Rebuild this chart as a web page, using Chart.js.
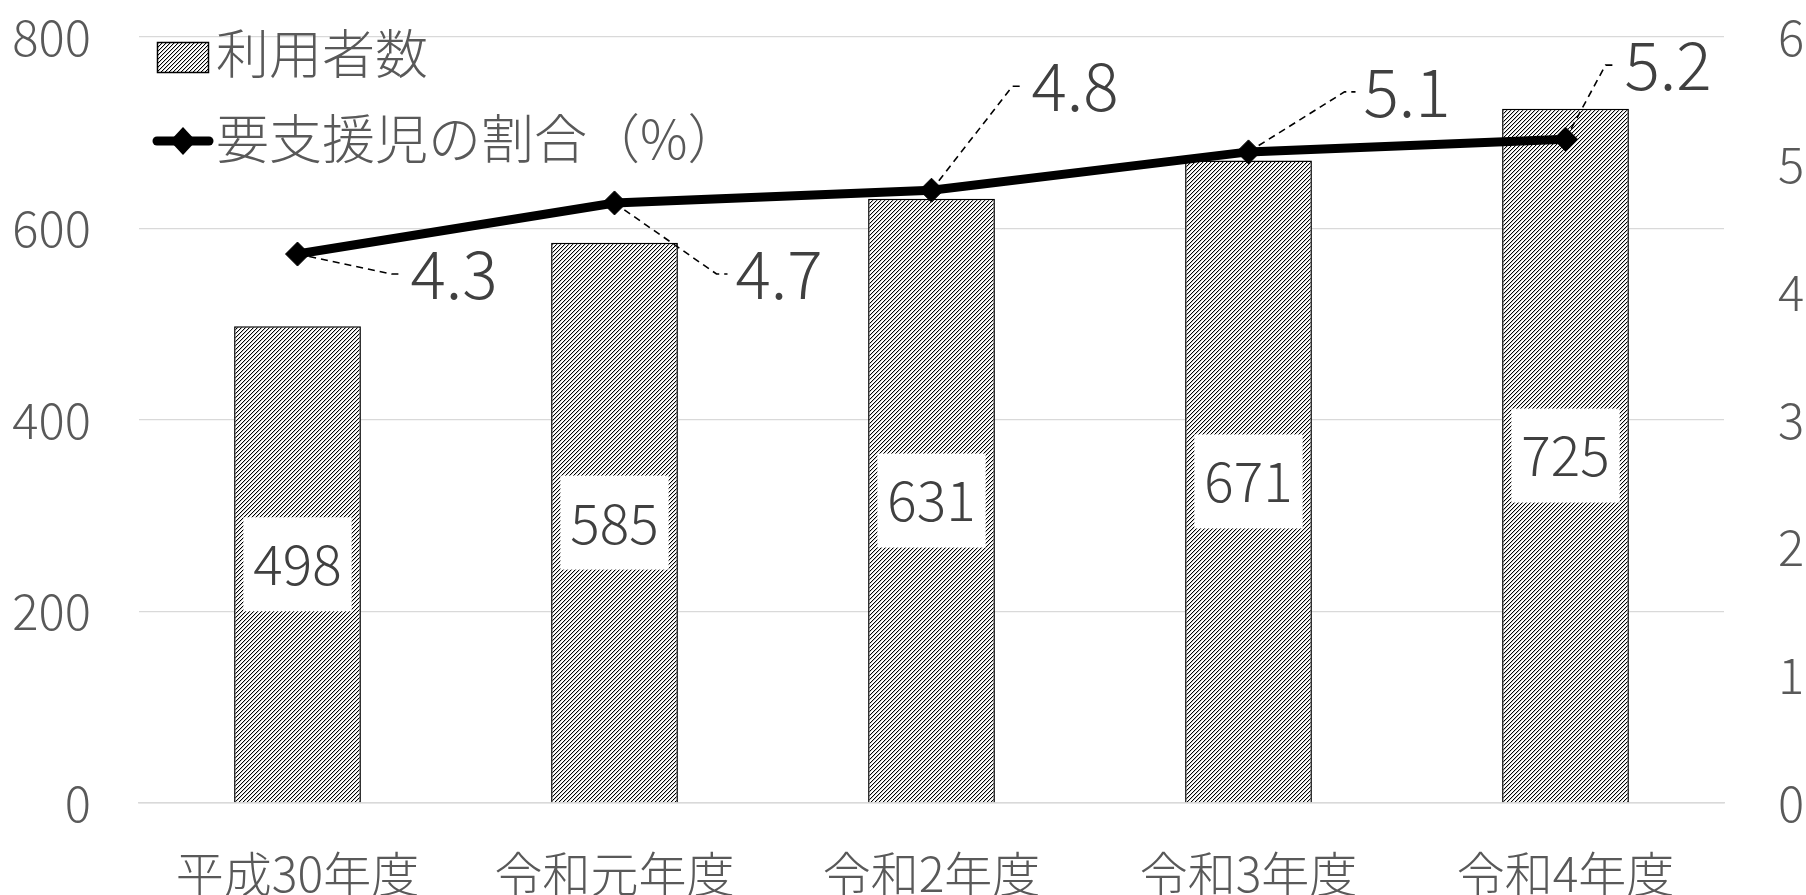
<!DOCTYPE html>
<html><head><meta charset="utf-8">
<script src="https://cdn.jsdelivr.net/npm/chart.js@4"></script>
<style>
html,body{margin:0;padding:0;background:#fff;overflow:hidden}
#wrap{width:1806px;height:895px;overflow:hidden;position:relative;background:#fff}
canvas{display:block}
</style></head><body>
<div id="wrap"><canvas id="c" width="1806" height="912"></canvas></div>
<script>
// ---- data ----
const categories = ['平成30年度','令和元年度','令和2年度','令和3年度','令和4年度'];
const users = [498, 585, 631, 671, 725];
const ratio = [4.3, 4.7, 4.8, 5.1, 5.2];
const leftTicks = [0, 200, 400, 600, 800];
const rightTicks = [0, 1, 2, 3, 4, 5, 6];
const seriesNames = ['利用者数', '要支援児の割合（%）'];

// ---- styling / placement (not data) ----
const FONT = '"Noto Sans CJK JP", "Noto Sans", sans-serif';
const TICK_COLOR = '#595959';
const LABEL_COLOR = '#404040';
const lineLabelOffsets = [[113,20],[121,71],[100,-104],[115,-60],[59,-74]];

const canvas = document.getElementById('c');
const ctx0 = canvas.getContext('2d');
function makeHatch(ctx){
  const p = document.createElement('canvas'); p.width = 4; p.height = 4;
  const g = p.getContext('2d');
  g.fillStyle = '#fff'; g.fillRect(0,0,4,4);
  for (let y=0;y<4;y++) for (let x=0;x<4;x++){
    const k = (x+y)%4;
    if (k===0){ g.fillStyle='#000'; g.fillRect(x,y,1,1); }
    else if (k===1){ g.fillStyle='#c8c8c8'; g.fillRect(x,y,1,1); }
  }
  return ctx.createPattern(p,'repeat');
}
const hatch = makeHatch(ctx0);

const labelPlugin = {
  id: 'labelPlugin',
  afterDatasetsDraw(chart){
    const ctx = chart.ctx;
    const barMeta = chart.getDatasetMeta(1);
    ctx.save();
    ctx.font = '300 55px ' + FONT;
    ctx.textAlign = 'center'; ctx.textBaseline = 'middle';
    barMeta.data.forEach((el, i) => {
      const txt = String(users[i]);
      const w = ctx.measureText(txt).width + 20;
      const h = 94;
      const cy = (el.y + el.base) / 2;
      ctx.fillStyle = '#fff';
      ctx.fillRect(el.x - w/2, cy - h/2, w, h);
      ctx.fillStyle = LABEL_COLOR;
      ctx.fillText(txt, el.x, cy);
    });
    const lineMeta = chart.getDatasetMeta(0);
    ctx.font = '300 66px ' + FONT;
    ctx.textAlign = 'left'; ctx.textBaseline = 'middle';
    lineMeta.data.forEach((pt, i) => {
      const [dx, dy] = lineLabelOffsets[i];
      const lx = pt.x + dx, ly = pt.y + dy;
      ctx.save();
      ctx.strokeStyle = '#000'; ctx.lineWidth = 1.6; ctx.setLineDash([7,5]);
      ctx.beginPath();
      ctx.moveTo(pt.x, pt.y);
      ctx.lineTo(lx - 19, ly);
      ctx.lineTo(lx - 8, ly);
      ctx.stroke();
      ctx.restore();
      ctx.fillStyle = LABEL_COLOR;
      ctx.fillText(ratio[i].toFixed(1), lx, ly);
    });
    ctx.restore();
  },
  afterDraw(chart){
    const ctx = chart.ctx;
    ctx.save();
    ctx.fillStyle = hatch;
    ctx.fillRect(157, 42, 52, 31);
    ctx.strokeStyle = '#000'; ctx.lineWidth = 1.5;
    ctx.strokeRect(157.5, 42.5, 51, 30);
    ctx.font = '300 53px ' + FONT;
    ctx.fillStyle = TICK_COLOR; ctx.textAlign = 'left'; ctx.textBaseline = 'middle';
    ctx.fillText(seriesNames[0], 216, 54);
    ctx.strokeStyle = '#000'; ctx.lineWidth = 9; ctx.lineCap = 'round';
    ctx.beginPath(); ctx.moveTo(157, 141); ctx.lineTo(209, 141); ctx.stroke();
    ctx.fillStyle = '#000';
    ctx.beginPath();
    ctx.moveTo(183, 127); ctx.lineTo(196, 141); ctx.lineTo(183, 155); ctx.lineTo(170, 141); ctx.closePath();
    ctx.fill();
    ctx.fillStyle = TICK_COLOR;
    ctx.fillText(seriesNames[1], 216, 139);
    ctx.restore();
  }
};

function noPad(s){ s.paddingTop = 0; s.paddingBottom = 0; }

new Chart(canvas, {
  type: 'bar',
  data: {
    labels: categories,
    datasets: [
      {
        type: 'line', label: seriesNames[1], data: ratio, yAxisID: 'y1', order: 0,
        borderColor: '#000', borderWidth: 9, tension: 0,
        pointStyle: 'rectRot', pointRadius: 12, pointBackgroundColor: '#000',
        pointBorderColor: '#000', pointBorderWidth: 1, fill: false
      },
      {
        type: 'bar', label: seriesNames[0], data: users, yAxisID: 'y', order: 1,
        backgroundColor: hatch, borderColor: '#000', borderWidth: 1.5,
        barPercentage: 0.4, categoryPercentage: 1.0
      }
    ]
  },
  options: {
    responsive: false, animation: false, devicePixelRatio: 1,
    layout: { padding: { top: 37, bottom: 0, left: 0, right: 0 } },
    plugins: { legend: { display: false }, tooltip: { enabled: false } },
    scales: {
      x: {
        offset: true,
        grid: { display: false, drawTicks: false },
        border: { display: true, color: '#d9d9d9', width: 1.5 },
        ticks: { color: TICK_COLOR, font: { family: FONT, size: 48, weight: 300 }, padding: 42, maxRotation: 0, autoSkip: false },
        afterFit(s){ s.height = 109; s.paddingLeft = 0; s.paddingRight = 0; }
      },
      y: {
        position: 'left', min: 0, max: 800,
        afterBuildTicks(s){ s.ticks = leftTicks.map(v => ({ value: v })); },
        grid: { color: '#d9d9d9', lineWidth: 1.3, drawTicks: false },
        border: { display: false },
        ticks: { color: TICK_COLOR, font: { family: FONT, size: 49, weight: 300 }, padding: 48 },
        afterFit(s){ s.width = 139; noPad(s); }
      },
      y1: {
        position: 'right', min: 0, max: 6,
        afterBuildTicks(s){ s.ticks = rightTicks.map(v => ({ value: v })); },
        grid: { drawOnChartArea: false, drawTicks: false },
        border: { display: false },
        ticks: { color: TICK_COLOR, font: { family: FONT, size: 49, weight: 300 }, padding: 54 },
        afterFit(s){ s.width = 82; noPad(s); }
      }
    }
  },
  plugins: [labelPlugin]
});
</script>
</body></html>
